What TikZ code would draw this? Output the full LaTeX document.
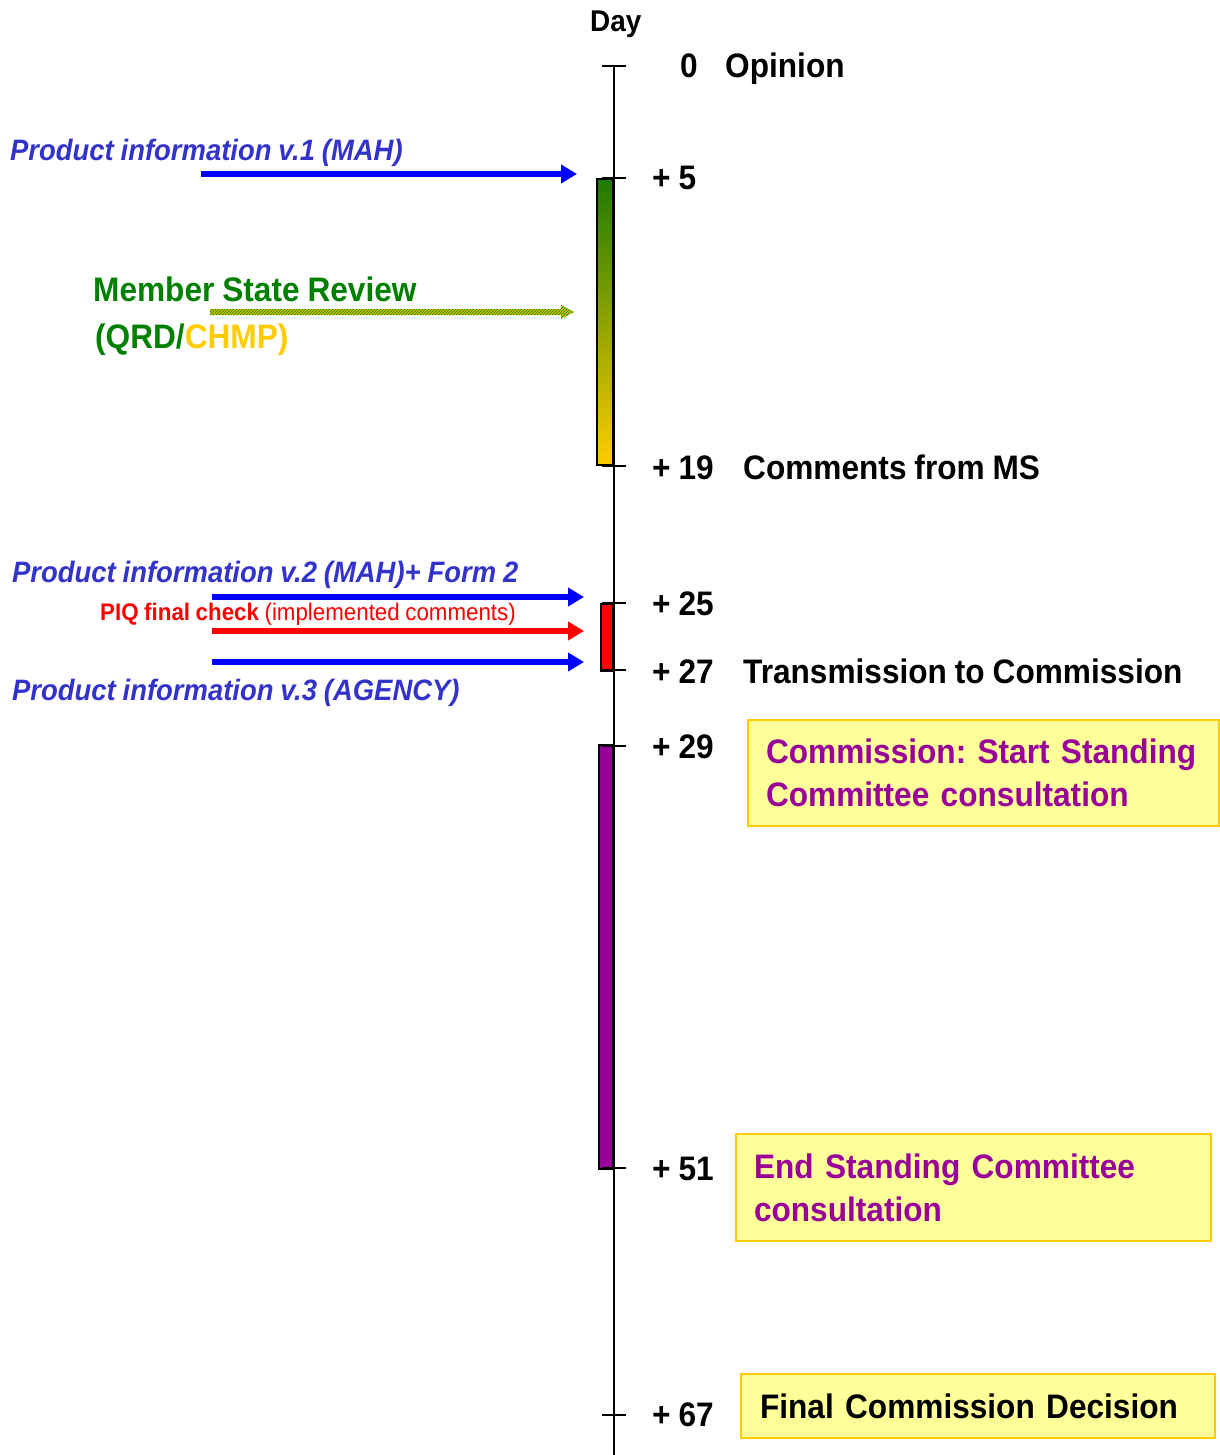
\documentclass[tikz,border=0pt]{standalone}
\usepackage{fontspec}
\setmainfont{Liberation Sans}[FakeStretch=0.93,WordSpace=0.9]
\usetikzlibrary{arrows.meta,patterns}
\definecolor{ablue}{HTML}{0000FF}
\definecolor{tblue}{HTML}{3333CC}
\definecolor{mgreen}{HTML}{008000}
\definecolor{dgreen}{HTML}{1E7A00}
\definecolor{myellow}{HTML}{FFCC00}
\definecolor{mpurple}{HTML}{990099}
\definecolor{boxfill}{HTML}{FFFF99}
\definecolor{mred}{HTML}{FF0000}
\frenchspacing
\begin{document}
\begin{tikzpicture}[x=1pt,y=-1pt,
  lbl/.style={anchor=base west,inner sep=0pt,font=\fontsize{34}{40}\selectfont\bfseries},
  pinfo/.style={anchor=base west,inner sep=0pt,text=tblue,font=\fontsize{29.5}{34}\selectfont\bfseries\itshape},
  tickmark/.style={line width=2pt},
  bigarrow/.style={line width=6pt,-{Triangle[length=16pt,width=18pt]}},
  evbox/.style={draw=myellow,line width=2pt,fill=boxfill,anchor=north west,inner xsep=18pt,inner ysep=0pt,align=left,font=\fontsize{34}{43}\selectfont\bfseries},
  barbox/.style={draw=black,line width=2pt,anchor=north east,inner sep=0pt,minimum width=14pt},
  hatchfill/.style={preaction={fill=myellow!85!mgreen},pattern=north east lines,pattern color=mgreen}]
\useasboundingbox (0,0) rectangle (1219,1455);

% axis
\coordinate (axtop) at (614,66);
\coordinate (axbot) at (614,1455);
\draw[line width=2pt] (axtop) -- (axbot);

% bars
\node[barbox,minimum width=16pt,minimum height=286pt,top color=dgreen,bottom color=myellow] (gbar) at (614,178) {};
\node[barbox,minimum width=12pt,minimum height=67pt,fill=mred] (rbar) at (614,603) {};
\node[barbox,minimum width=14pt,minimum height=424pt,fill=mpurple] (pbar) at (614,744) {};

% ticks
\foreach \ty in {66,178,466,603,670,746,1168,1415}
  \draw[tickmark] (602,\ty) -- (626,\ty);

% day labels
\node[anchor=base west,inner sep=0pt,font=\fontsize{30}{34}\selectfont\bfseries] (day) at (590,32) {Day};
\node[lbl] (d0) at (680,78) {0};
\node[lbl] (op) at (725,78) {Opinion};
\node[lbl] (d5) at (652,190) {+ 5};
\node[lbl] (d19) at (652,479) {+ 19};
\node[lbl] (cms) at (743,479) {Comments from MS};
\node[lbl] (d25) at (652,615) {+ 25};
\node[lbl] (d27) at (652,683) {+ 27};
\node[lbl] (trc) at (743,683) {Transmission to Commission};
\node[lbl] (d29) at (652,758) {+ 29};
\node[lbl] (d51) at (652,1180) {+ 51};
\node[lbl] (d67) at (652,1426) {+ 67};

% event boxes
\node[evbox,text=mpurple,minimum width=471pt,minimum height=106pt,text width=435pt] (b1) at (747,719)
  {Commission: Start Standing\\Committee consultation};
\node[evbox,text=mpurple,minimum width=475pt,minimum height=107pt,text width=439pt] (b2) at (735,1133)
  {End Standing Committee\\consultation};
\node[evbox,text=black,minimum width=474pt,minimum height=64pt,text width=436pt,inner xsep=19pt] (b3) at (740,1373)
  {Final Commission Decision};

% left texts
\node[pinfo] (pi1) at (10,161) {Product information v.1 (MAH)};
\node[anchor=base west,inner sep=0pt,text=mgreen,font=\fontsize{34}{40}\selectfont\bfseries] (msr) at (93,301) {Member State Review};
\node[anchor=base west,inner sep=0pt,font=\fontsize{34}{40}\selectfont\bfseries] (qrd) at (95,348) {\textcolor{mgreen}{(QRD/}\textcolor{myellow}{CHMP)}};
\node[pinfo] (pi2) at (12,582) {Product information v.2 (MAH)+ Form 2};
\node[anchor=base west,inner sep=0pt,text=mred,font=\fontsize{24}{28}\selectfont] (piq) at (100,620) {\textbf{PIQ final check} (implemented comments)};
\node[pinfo] (pi3) at (12,700) {Product information v.3 (AGENCY)};

% arrows
\coordinate (a1s) at (201,174); \coordinate (a1e) at (577,174);
\draw[bigarrow,ablue] (a1s) -- (a1e);
\coordinate (hs) at (210,312); \coordinate (he) at (574,312);
\fill[hatchfill] (hs) ++(0,-3) -- ++(351,0) -- ++(0,-4) -- (he) -- ++(-13,7) -- ++(0,-4) -- ++(-351,0) -- cycle;
\coordinate (a2s) at (212,597); \coordinate (a2e) at (584,597);
\draw[bigarrow,ablue] (a2s) -- (a2e);
\coordinate (a3s) at (212,631); \coordinate (a3e) at (584,631);
\draw[bigarrow,mred] (a3s) -- (a3e);
\coordinate (a4s) at (212,662); \coordinate (a4e) at (584,662);
\draw[bigarrow,ablue] (a4s) -- (a4e);
\end{tikzpicture}
\end{document}
